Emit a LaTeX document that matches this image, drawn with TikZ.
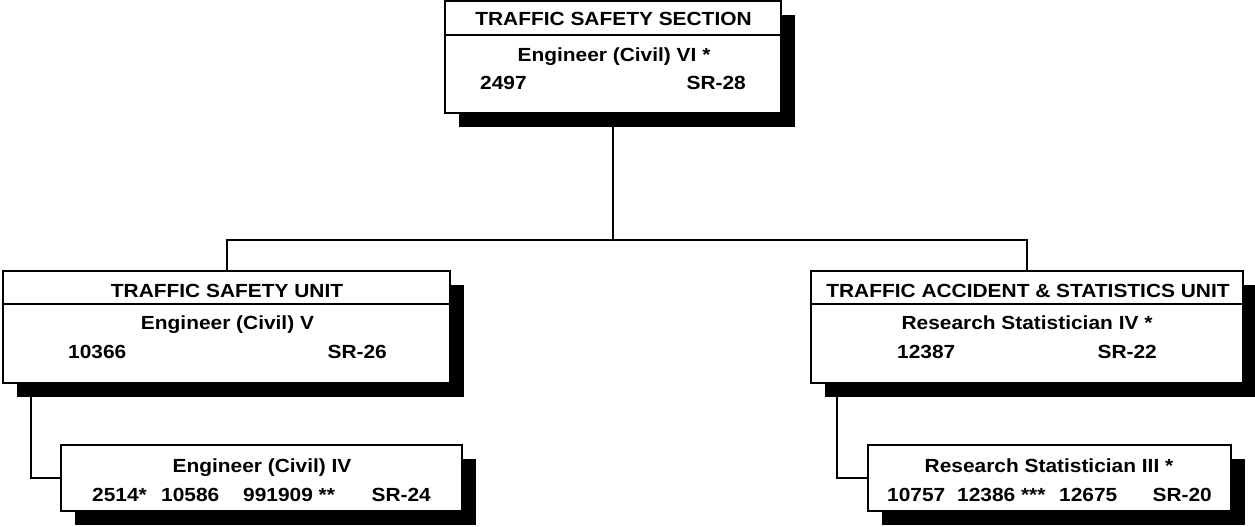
\documentclass[tikz,border=0pt]{standalone}
\usepackage{fontspec}
\newfontfamily\tfont{Liberation Sans}[FakeStretch=1.10]
\usetikzlibrary{shadows}
\begin{document}
\begin{tikzpicture}[x=1pt,y=-1pt,
  box/.style={draw=black,line width=2pt,fill=white,rectangle,inner sep=0pt,
    general shadow={fill=black,shadow xshift=14pt,shadow yshift=-14pt}},
  txt/.style={inner sep=0pt,font=\tfont\bfseries\fontsize{19}{21}\selectfont},
  conn/.style={line width=2pt}]
\useasboundingbox (0,0) rectangle (1255,527);
% boxes
\node[box,minimum width=336pt,minimum height=112pt] (top) at (613,57) {};
\node[box,minimum width=447pt,minimum height=112pt] (lu) at (226.5,327) {};
\node[box,minimum width=432pt,minimum height=112pt] (ru) at (1027,327) {};
\node[box,minimum width=401pt,minimum height=66pt] (ls) at (261.5,478) {};
\node[box,minimum width=363pt,minimum height=66pt] (rs) at (1049.5,478) {};
% header dividers
\draw[conn] ([yshift=-35pt]top.north west) -- ([yshift=-35pt]top.north east);
\draw[conn] ([yshift=-34pt]lu.north west) -- ([yshift=-34pt]lu.north east);
\draw[conn] ([yshift=-34pt]ru.north west) -- ([yshift=-34pt]ru.north east);
% connectors
\coordinate (hub) at (613,240);
\coordinate (lbend) at (31,478);
\coordinate (rbend) at (837,478);
\draw[conn] (top.south) -- (hub);
\draw[conn] (lu.north) |- (hub) -| (ru.north);
\draw[conn] (lu.south -| lbend) -- (lbend) -- (ls.west);
\draw[conn] (ru.south -| rbend) -- (rbend) -- (rs.west);
% top box text
\node[txt,anchor=base] (t1) at (613.5,26) {TRAFFIC SAFETY SECTION};
\node[txt,anchor=base] (t2) at (614,62) {Engineer (Civil) VI *};
\node[txt,anchor=base west] (t3) at (480,89) {2497};
\node[txt,anchor=base east] (t4) at (746,89) {SR-28};
% left unit
\node[txt,anchor=base] (l1) at (227,297) {TRAFFIC SAFETY UNIT};
\node[txt,anchor=base] (l2) at (227.5,329) {Engineer (Civil) V};
\node[txt,anchor=base west] (l3) at (68,358) {10366};
\node[txt,anchor=base east] (l4) at (387,358) {SR-26};
% right unit
\node[txt,anchor=base] (r1) at (1028,297) {TRAFFIC ACCIDENT \& STATISTICS UNIT};
\node[txt,anchor=base] (r2) at (1027,329) {Research Statistician IV *};
\node[txt,anchor=base west] (r3) at (897,358) {12387};
\node[txt,anchor=base east] (r4) at (1157,358) {SR-22};
% left sub
\node[txt,anchor=base] (ls1) at (262,472) {Engineer (Civil) IV};
\node[txt,anchor=base west] (ls2) at (92,501) {2514*};
\node[txt,anchor=base west] (ls3) at (161,501) {10586};
\node[txt,anchor=base west] (ls4) at (243,501) {991909 **};
\node[txt,anchor=base east] (ls5) at (431,501) {SR-24};
% right sub
\node[txt,anchor=base] (rs1) at (1049,472) {Research Statistician III *};
\node[txt,anchor=base west] (rs2) at (887,501) {10757};
\node[txt,anchor=base west] (rs3) at (957,501) {12386 ***};
\node[txt,anchor=base west] (rs4) at (1059,501) {12675};
\node[txt,anchor=base east] (rs5) at (1212,501) {SR-20};
\end{tikzpicture}
\end{document}
